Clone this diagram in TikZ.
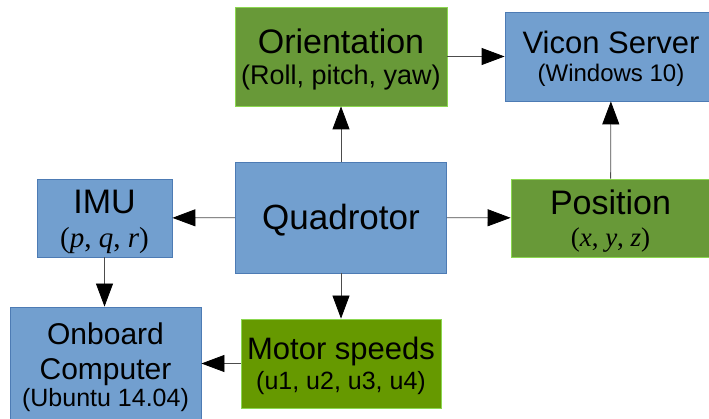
\documentclass[tikz,border=0pt]{standalone}
\usepackage{fontspec}
\setmainfont{Liberation Sans}
\newfontfamily\varfont{Liberation Serif}
\usepackage{xcolor}
\definecolor{mblue}{RGB}{114,159,207}
\definecolor{mblueline}{RGB}{77,123,180}
\definecolor{mgreen}{RGB}{104,153,56}
\definecolor{mlime}{RGB}{102,153,0}
\definecolor{mgreenline}{RGB}{140,215,80}
\usepackage{tikz}
\usetikzlibrary{arrows.meta}
% lifts the first line a little inside its box
\newcommand{\liftline}{\rule{0pt}{0.9em}}

\begin{document}
\begin{tikzpicture}[x=1pt, y=-1pt,
    module/.style={draw, line width=0.8pt, inner sep=0pt, align=center, text=black},
    sysmodule/.style={module, fill=mblue, draw=mblueline},
    datamodule/.style={module, fill=mgreen, draw=mgreenline},
    motormodule/.style={module, fill=mlime, draw=mgreenline},
    arrow/.style={-{Triangle[length=23pt, width=17pt, color=black]}, line width=0.8pt, draw=black!70},
]
\useasboundingbox (0,0) rectangle (709,419);

\node[datamodule, minimum width=212pt, minimum height=99pt, font=\fontsize{27}{31}\selectfont] (orient) at (341,56.5)
    {{\fontsize{34}{36}\selectfont\liftline Orientation}\\(Roll, pitch, yaw)};
\node[sysmodule, minimum width=212pt, minimum height=89pt, font=\fontsize{24}{28}\selectfont] (vicon) at (611,56.5)
    {{\fontsize{31}{34}\selectfont\liftline Vicon Server}\\(Windows 10)};
\node[sysmodule, minimum width=211pt, minimum height=111pt, font=\fontsize{35}{38}\selectfont] (quad) at (341,217.5)
    {\liftline Quadrotor};
\node[datamodule, minimum width=199pt, minimum height=78pt, font=\fontsize{27}{32}\selectfont] (pos) at (610.5,218)
    {{\fontsize{34}{36}\selectfont\liftline Position}\\{\varfont(\textit{x}, \textit{y}, \textit{z})}};
\node[sysmodule, minimum width=135pt, minimum height=78pt, font=\fontsize{29}{34}\selectfont] (imu) at (104.5,218)
    {{\fontsize{34}{36}\selectfont\liftline IMU}\\{\varfont(\textit{p}, \textit{q}, \textit{r})}};
\node[sysmodule, minimum width=191pt, minimum height=120pt, font=\fontsize{25}{27}\selectfont] (onboard) at (105.5,367)
    {{\fontsize{30}{35}\selectfont Onboard}\\[8pt]{\fontsize{30}{35}\selectfont Computer}\\(Ubuntu 14.04)};
\node[motormodule, minimum width=200pt, minimum height=89pt, font=\fontsize{25}{30}\selectfont] (motor) at (341,363.5)
    {{\fontsize{31}{34}\selectfont\liftline Motor speeds}\\(u1, u2, u3, u4)};

% data flow out of the quadrotor
\draw[arrow] (quad) -- (orient);
\draw[arrow] (quad) -- (pos);
\draw[arrow] (quad) -- (imu);
\draw[arrow] (quad) -- (motor);
\draw[arrow] (orient) -- (vicon);
\draw[arrow] (pos) -- (vicon);
\draw[arrow] (imu.south) -- (imu.south |- onboard.north);
\draw[arrow] (motor.west) -- (motor.west -| onboard.east);

\end{tikzpicture}
\end{document}
